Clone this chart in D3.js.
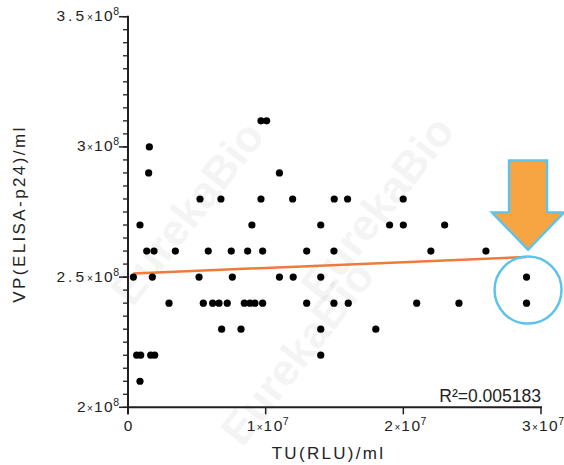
<!DOCTYPE html>
<html>
<head>
<meta charset="utf-8">
<script src="https://cdn.jsdelivr.net/npm/d3@7"></script>
<style>
  body { margin: 0; background: #fff; }
  svg { display: block; font-family: "Liberation Sans", Arial, sans-serif; }
</style>
</head>
<body>
<svg id="chart" width="564" height="465"></svg>
<script>
// TU (x1e6 RLU/ml) and VP (x1e8 /ml), one entry per dot
const tuValues = [
  9.66, 10.07,
  1.55,
  1.5, 11.0,
  5.23, 6.75, 9.66, 11.96, 14.98, 15.95, 19.99,
  0.87, 9.0, 14.0, 19.0, 20.0, 23.0,
  1.36, 1.89, 3.44, 5.83, 7.5, 8.69, 9.78, 12.98, 14.96, 22.0, 26.0,
  0.39, 1.77, 5.16, 7.58, 11.0, 12.0, 14.0, 28.95,
  2.98, 5.47, 6.15, 6.61, 7.21, 8.45, 8.86, 9.22, 9.78, 12.98, 14.96, 16.0, 20.97, 24.04, 28.95,
  6.8, 8.21, 14.0, 18.0,
  0.63, 0.92, 1.65, 1.94, 14.0,
  0.87
];
const vpValues = [
  3.1, 3.1,
  3.0,
  2.9, 2.9,
  2.8, 2.8, 2.8, 2.8, 2.8, 2.8, 2.8,
  2.7, 2.7, 2.7, 2.7, 2.7, 2.7,
  2.6, 2.6, 2.6, 2.6, 2.6, 2.6, 2.6, 2.6, 2.6, 2.6, 2.6,
  2.5, 2.5, 2.5, 2.5, 2.5, 2.5, 2.5, 2.5,
  2.4, 2.4, 2.4, 2.4, 2.4, 2.4, 2.4, 2.4, 2.4, 2.4, 2.4, 2.4, 2.4, 2.4, 2.4,
  2.3, 2.3, 2.3, 2.3,
  2.2, 2.2, 2.2, 2.2, 2.2,
  2.1
];

// linear fit (ends of the orange line) and its R²
const fitTu = [0.39, 28.95];
const fitVp = [2.514, 2.577];
const r2Text = "R\u00B2=0.005183";

// ticks: [mantissa, exponent]
const xTicks = [[0, 0], [1, 7], [2, 7], [3, 7]];
const yTicks = [[2, 8], [2.5, 8], [3, 8], [3.5, 8]];
const yMinor = d3.range(2.0, 3.5001, 0.05);

const xTitle = "TU(RLU)/ml";
const yTitle = "VP(ELISA-p24)/ml";

// highlighted outlier group (arrow + circle), data units
const highlight = { tu: 28.95, vp: 2.45 };
const arrowShape = { tip: 2.605, headBase: 2.748, top: 2.948 };

const svg = d3.select("#chart");
const margin = { left: 128, top: 16.7, right: 23, bottom: 57.7 };
const W = 564, H = 465;

const x = d3.scaleLinear().domain([0, 30]).range([margin.left, W - margin.right]);
const y = d3.scaleLinear().domain([2.0, 3.5]).range([H - margin.bottom, margin.top]);

// faint watermark
const marks = [[190, 215], [380, 210], [300, 355]];
svg.append("g")
  .selectAll("text")
  .data(marks)
  .join("text")
  .attr("transform", d => `translate(${d[0]},${d[1]}) rotate(-52)`)
  .attr("text-anchor", "middle")
  .attr("dominant-baseline", "middle")
  .attr("font-size", 44)
  .attr("font-weight", "bold")
  .attr("fill", "#000")
  .attr("opacity", 0.04)
  .text("EurekaBio");

const axisColor = "#231f20";

function sciLabel(sel, m, e) {
  if (e === 0) {
    sel.append("tspan").text(String(m));
    return;
  }
  sel.append("tspan").attr("letter-spacing", String(m).length > 1 ? 3 : 1.5).text(String(m));
  sel.append("tspan").attr("font-size", 10).text("\u00D7");
  sel.append("tspan").attr("letter-spacing", 1.5).attr("dx", 1).text("10");
  sel.append("tspan").attr("font-size", 10.5).attr("dy", -6).attr("dx", -1).text(String(e));
}

// y axis
const yAxisG = svg.append("g").attr("transform", `translate(${margin.left},0)`);
yAxisG.append("line")
  .attr("x1", 0).attr("x2", 0)
  .attr("y1", y(3.5) - 1).attr("y2", y(2.0) + 7)
  .attr("stroke", axisColor).attr("stroke-width", 2);
yAxisG.selectAll(".minor")
  .data(yMinor)
  .join("line")
  .attr("x1", -5).attr("x2", 0)
  .attr("y1", d => y(d)).attr("y2", d => y(d))
  .attr("stroke", axisColor).attr("stroke-width", 1.3);
yAxisG.selectAll(".major")
  .data(yTicks)
  .join("line")
  .attr("x1", -9).attr("x2", 0)
  .attr("y1", d => y(d[0])).attr("y2", d => y(d[0]))
  .attr("stroke", axisColor).attr("stroke-width", 1.5);
yAxisG.selectAll("text")
  .data(yTicks)
  .join("text")
  .attr("x", -9)
  .attr("y", d => y(d[0]) + 4.5)
  .attr("text-anchor", "end")
  .attr("font-size", 15.5)
  .attr("fill", "#222")
  .each(function(d) { sciLabel(d3.select(this), d[0], d[1]); });

// x axis
const xAxisG = svg.append("g").attr("transform", `translate(0,${y(2.0)})`);
xAxisG.append("line")
  .attr("x1", x(0) - 1).attr("x2", x(30) + 1)
  .attr("y1", 0).attr("y2", 0)
  .attr("stroke", axisColor).attr("stroke-width", 2);
xAxisG.selectAll(".major")
  .data(xTicks)
  .join("line")
  .attr("x1", d => x(d[0] * 10)).attr("x2", d => x(d[0] * 10))
  .attr("y1", 0).attr("y2", 7)
  .attr("stroke", axisColor).attr("stroke-width", 1.5);
xAxisG.selectAll("text")
  .data(xTicks)
  .join("text")
  .attr("x", d => x(d[0] * 10) + (d[1] ? 2 : 0))
  .attr("y", 24)
  .attr("text-anchor", "middle")
  .attr("font-size", 15.5)
  .attr("fill", "#222")
  .each(function(d) { sciLabel(d3.select(this), d[0], d[1]); });

// axis titles
svg.append("text")
  .attr("x", x(15) - 6)
  .attr("y", 459)
  .attr("text-anchor", "middle")
  .attr("font-size", 17)
  .attr("letter-spacing", 2.3)
  .attr("fill", "#222")
  .text(xTitle);
svg.append("text")
  .attr("transform", `translate(25,${y(2.75) + 2}) rotate(-90)`)
  .attr("text-anchor", "middle")
  .attr("font-size", 17)
  .attr("letter-spacing", 2.4)
  .attr("fill", "#222")
  .text(yTitle);

// fit line
svg.append("line")
  .attr("x1", x(fitTu[0])).attr("y1", y(fitVp[0]))
  .attr("x2", x(fitTu[1])).attr("y2", y(fitVp[1]))
  .attr("stroke", "#ef7a3c")
  .attr("stroke-width", 2.5);

// dots
svg.append("g")
  .selectAll("circle")
  .data(tuValues.map((t, i) => [t, vpValues[i]]))
  .join("circle")
  .attr("cx", d => x(d[0]))
  .attr("cy", d => y(d[1]))
  .attr("r", 3.6)
  .attr("fill", "#000");

// R² label
svg.append("text")
  .attr("x", x(30))
  .attr("y", y(2.0) - 5)
  .attr("text-anchor", "end")
  .attr("font-size", 17.5)
  .attr("fill", "#222")
  .text(r2Text);

// highlight circle + arrow
const hx = x(highlight.tu) + 1.5;
svg.append("circle")
  .attr("cx", hx)
  .attr("cy", y(highlight.vp))
  .attr("r", 33.5)
  .attr("fill", "none")
  .attr("stroke", "#5ec3ec")
  .attr("stroke-width", 2.5);

const bodyHalf = 19, headHalf = 36;
const arrowPts = [
  [hx - bodyHalf, y(arrowShape.top)],
  [hx + bodyHalf, y(arrowShape.top)],
  [hx + bodyHalf, y(arrowShape.headBase)],
  [hx + headHalf, y(arrowShape.headBase)],
  [hx, y(arrowShape.tip)],
  [hx - headHalf, y(arrowShape.headBase)],
  [hx - bodyHalf, y(arrowShape.headBase)]
];
svg.append("path")
  .attr("d", d3.line()(arrowPts) + "Z")
  .attr("fill", "#f7a443")
  .attr("stroke", "#5ec3ec")
  .attr("stroke-width", 2.5)
  .attr("stroke-linejoin", "miter");
</script>
</body>
</html>
